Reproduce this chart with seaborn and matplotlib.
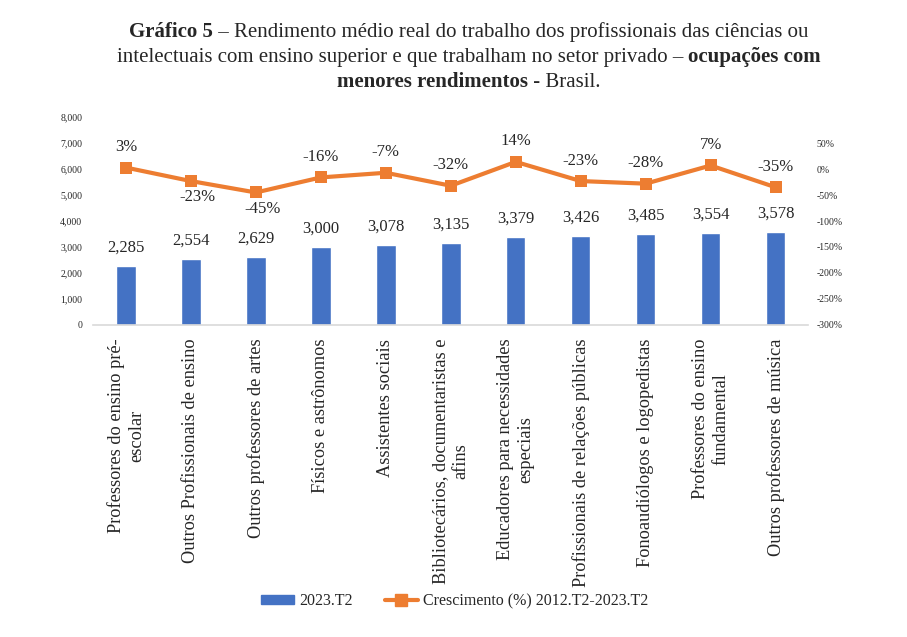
import numpy as np
import pandas as pd
import matplotlib
matplotlib.use("Agg")
import matplotlib.pyplot as plt
import seaborn as sns
from matplotlib.patches import Patch
from matplotlib.lines import Line2D

ocupacoes = [
    "Professores do ensino pré-\nescolar",
    "Outros Profissionais de ensino",
    "Outros professores de artes",
    "Físicos e astrônomos",
    "Assistentes sociais",
    "Bibliotecários, documentaristas e\nafins",
    "Educadores para necessidades\nespeciais",
    "Profissionais de relações públicas",
    "Fonoaudiólogos e logopedistas",
    "Professores do ensino\nfundamental",
    "Outros professores de música",
]
rendimento_2023 = [2285, 2554, 2629, 3000, 3078, 3135, 3379, 3426, 3485, 3554, 3578]
crescimento = [3, -23, -45, -16, -7, -32, 14, -23, -28, 7, -35]
rotulo_abaixo = [False, True, True, False, False, False, False, False, False, False, False]

titulo = [
    [("Gráfico 5", "bold"), (" – Rendimento médio real do trabalho dos profissionais das ciências ou", "normal")],
    [("intelectuais com ensino superior e que trabalham no setor privado – ", "normal"), ("ocupações com", "bold")],
    [("menores rendimentos", "bold"), (" - Brasil.", "normal")],
]

AZUL = "#4472C4"
LARANJA = "#ED7D31"

sns.set_theme(style="white")
plt.rcParams["font.family"] = ["Liberation Serif", "DejaVu Serif"]

df = pd.DataFrame({"ocupacao": ocupacoes, "rendimento": rendimento_2023,
                   "crescimento": crescimento})
df["pos"] = np.arange(len(df))

fig = plt.figure(figsize=(9.07, 6.37), dpi=100)
ax = fig.add_axes([0.103, 0.490, 0.788, 0.326])

sns.barplot(data=df, x="ocupacao", y="rendimento", color=AZUL, width=0.3,
            saturation=1, ax=ax)
ax.set_xlim(-0.5, len(df) - 0.5)
ax.set_ylim(0, 8000)
ax.set_yticks(np.arange(0, 8001, 1000))
ax.set_yticklabels([f"{v:,.0f}" for v in np.arange(0, 8001, 1000)], fontsize=7)
ax.set_xlabel("")
ax.set_ylabel("")
ax.set_xticks(df["pos"])
ax.set_xticklabels(df["ocupacao"], rotation=90, fontsize=13.2, ha="center",
                   va="top", multialignment="center", linespacing=1.25)
ax.tick_params(axis="y", length=0, pad=8)
ax.tick_params(axis="x", length=0, pad=10)
for s in ["top", "right", "left"]:
    ax.spines[s].set_visible(False)
ax.spines["bottom"].set_color("#d9d9d9")
ax.spines["bottom"].set_linewidth(1.2)

for x, v in zip(df["pos"], df["rendimento"]):
    ax.text(x, v + 400, f"{v:,}", ha="center", va="bottom", fontsize=12)

ax2 = ax.twinx()
sns.lineplot(data=df, x="pos", y="crescimento", color=LARANJA, lw=3,
             marker="s", markersize=8, markeredgewidth=0, ax=ax2)
ax2.set_ylim(-300, 100)
ax2.set_yticks(np.arange(-300, 51, 50))
ax2.set_yticklabels([f"{v}%" for v in np.arange(-300, 51, 50)], fontsize=7)
ax2.set_ylabel("")
ax2.tick_params(axis="y", length=0, pad=6)
for s in ["top", "right", "left", "bottom"]:
    ax2.spines[s].set_visible(False)

for x, v, abaixo in zip(df["pos"], df["crescimento"], rotulo_abaixo):
    if abaixo:
        ax2.text(x + 0.1, v - 16, f"{v}%", ha="center", va="top", fontsize=12)
    else:
        ax2.text(x, v + 24, f"{v}%", ha="center", va="bottom", fontsize=12)

handles = [Patch(color=AZUL, label="2023.T2"),
           Line2D([0], [0], color=LARANJA, lw=3, marker="s", markersize=8,
                  label="Crescimento (%) 2012.T2-2023.T2")]
fig.legend(handles=handles, loc="center", bbox_to_anchor=(0.501, 0.056), ncol=2,
           frameon=False, fontsize=11.5, handlelength=2.1, columnspacing=2.0,
           handleheight=0.5, handletextpad=0.3)

# title with mixed bold / normal pieces, each line centred
renderer = fig.canvas.get_renderer()
fig_w = fig.get_figwidth() * fig.dpi
for i, linha in enumerate(titulo):
    y = 0.950 - i * 0.0395
    pecas = [fig.text(0, y, t, fontsize=15, fontweight=w, va="center")
             for t, w in linha]
    larguras = [p.get_window_extent(renderer).width / fig_w for p in pecas]
    x = 0.517 - sum(larguras) / 2
    for p, lw_ in zip(pecas, larguras):
        p.set_x(x)
        x += lw_

fig.savefig("out.png", dpi=100)
